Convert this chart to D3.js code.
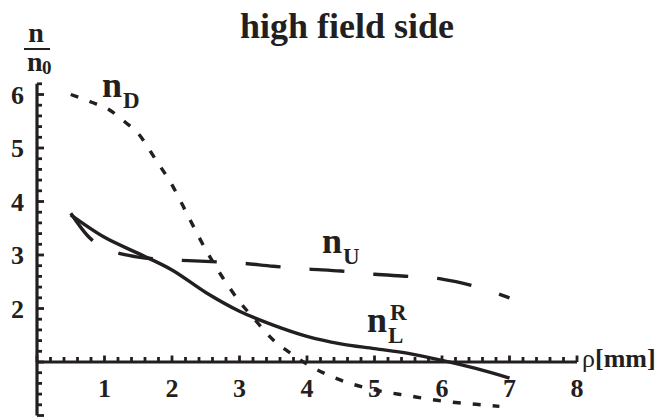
<!DOCTYPE html>
<html>
<head>
<meta charset="utf-8">
<script src="https://cdn.jsdelivr.net/npm/d3@7"></script>
<style>
  body { margin: 0; background: #fff; }
  svg { display: block; }
  text { font-family: "Liberation Serif", "Times New Roman", serif; fill: #231f20; }
</style>
</head>
<body>
<div id="area"></div>
<script>
// values (rho in mm, n/n0)
var rhoL = [0.5, 1, 1.5, 2, 2.5, 3, 3.5, 4, 4.5, 5, 5.5, 6, 6.5, 7];
var nL = [3.75, 3.33, 3.03, 2.72, 2.3, 1.95, 1.69, 1.48, 1.34, 1.25, 1.16, 1.03, 0.88, 0.7];

var rhoU = [0.5, 0.75, 1, 1.25, 1.5, 2, 2.5, 3, 3.5, 4, 4.5, 5, 5.5, 6, 6.5, 7];
var nU = [3.78, 3.36, 3.12, 3.02, 2.96, 2.91, 2.88, 2.85, 2.79, 2.74, 2.70, 2.64, 2.60, 2.55, 2.41, 2.2];

var rhoD = [0.5, 0.8, 1.05, 1.3, 1.5, 1.75, 2, 2.25, 2.5, 2.75, 3, 3.25, 3.5, 3.75, 4, 4.5, 5, 5.5, 6, 6.5, 6.85];
var nD = [6.0, 5.86, 5.73, 5.49, 5.27, 4.8, 4.31, 3.7, 3.1, 2.58, 2.13, 1.76, 1.41, 1.17, 0.96, 0.66, 0.48, 0.37, 0.27, 0.21, 0.17];

var xTicks = [1, 2, 3, 4, 5, 6, 7, 8];
var yTicks = [2, 3, 4, 5, 6];

var width = 664, height = 417;
var ink = '#231f20';

var svg = d3.select('#area').append('svg')
    .attr('width', width)
    .attr('height', height);

var x = d3.scaleLinear().domain([0, 8]).range([37, 577]);
var y = d3.scaleLinear().domain([0, 6.2]).range([415.5, 83.8]);

// axes cross at (0, 1), minor ticks every 0.2
var minorX = d3.range(0, 8.001, 0.2);
var minorY = d3.range(0, 6.201, 0.2);
function isMajor(d) { return Math.abs(d - Math.round(d)) < 1e-6; }

var axes = svg.append('g').attr('stroke', ink);

axes.append('line')
  .attr('x1', x(0)).attr('x2', x(8))
  .attr('y1', y(1)).attr('y2', y(1))
  .attr('stroke-width', 3.2);

axes.append('line')
  .attr('x1', x(0)).attr('x2', x(0))
  .attr('y1', y(0)).attr('y2', y(6.2))
  .attr('stroke-width', 3.2);

axes.selectAll('.xtick')
  .data(minorX)
  .enter().append('line')
  .attr('class', 'xtick')
  .attr('x1', function(d) { return x(d); })
  .attr('x2', function(d) { return x(d); })
  .attr('y1', y(1))
  .attr('y2', function(d) { return y(1) - (isMajor(d) ? 6.5 : 5); })
  .attr('stroke-width', 2.8);

axes.selectAll('.ytick')
  .data(minorY)
  .enter().append('line')
  .attr('class', 'ytick')
  .attr('y1', function(d) { return y(d); })
  .attr('y2', function(d) { return y(d); })
  .attr('x1', x(0))
  .attr('x2', function(d) { return x(0) + (isMajor(d) ? 7 : 5); })
  .attr('stroke-width', 2.8);

svg.selectAll('.xlab')
  .data(xTicks)
  .enter().append('text')
  .attr('class', 'xlab')
  .attr('x', function(d) { return x(d); })
  .attr('y', 397)
  .attr('text-anchor', 'middle')
  .style('font-size', '26px')
  .style('font-weight', 'bold')
  .text(function(d) { return d; });

svg.selectAll('.ylab')
  .data(yTicks)
  .enter().append('text')
  .attr('class', 'ylab')
  .attr('x', 24)
  .attr('y', function(d) { return y(d) + 9; })
  .attr('text-anchor', 'end')
  .style('font-size', '26px')
  .style('font-weight', 'bold')
  .text(function(d) { return d; });

// curves
var line = d3.line()
  .x(function(d) { return x(d[0]); })
  .y(function(d) { return y(d[1]); })
  .curve(d3.curveMonotoneX);

function pairs(a, b) { return a.map(function(v, i) { return [v, b[i]]; }); }

svg.append('path')
  .datum(pairs(rhoD, nD))
  .attr('d', line)
  .attr('fill', 'none')
  .attr('stroke', ink)
  .attr('stroke-width', 3.4)
  .attr('stroke-dasharray', '8,12');

svg.append('path')
  .datum(pairs(rhoU, nU))
  .attr('d', line)
  .attr('fill', 'none')
  .attr('stroke', ink)
  .attr('stroke-width', 3.4)
  .attr('stroke-dasharray', '35,29');

svg.append('path')
  .datum(pairs(rhoL, nL))
  .attr('d', line)
  .attr('fill', 'none')
  .attr('stroke', ink)
  .attr('stroke-width', 3.4);

// title
svg.append('text')
  .attr('x', 347)
  .attr('y', 38)
  .attr('text-anchor', 'middle')
  .style('font-size', '36px')
  .style('font-weight', 'bold')
  .text('high field side');

// y label n / n0
var yl = svg.append('g').style('font-weight', 'bold');
yl.append('text').attr('x', 36).attr('y', 42).attr('text-anchor', 'middle')
  .style('font-size', '28px').text('n');
yl.append('line').attr('x1', 24).attr('x2', 50).attr('y1', 49).attr('y2', 49)
  .attr('stroke', ink).attr('stroke-width', 2);
yl.append('text').attr('x', 27).attr('y', 71).style('font-size', '28px').text('n');
yl.append('text').attr('x', 42).attr('y', 74).style('font-size', '19px').text('0');

// x label
var xl = svg.append('text').attr('x', 582).attr('y', 367).style('font-size', '26px');
xl.append('tspan').text('ρ');
xl.append('tspan').style('font-weight', 'bold').text('[mm]');

// curve labels
function label(xp, yp, sub, sup) {
  var g = svg.append('g').style('font-weight', 'bold');
  g.append('text').attr('x', xp).attr('y', yp).style('font-size', '36px').text('n');
  if (sub) g.append('text').attr('x', xp + 21).attr('y', yp + 11).style('font-size', '23px').text(sub);
  if (sup) g.append('text').attr('x', xp + 23).attr('y', yp - 12).style('font-size', '23px').text(sup);
}
label(102, 97, 'D');
label(322, 253, 'U');
label(367, 332, 'L', 'R');
</script>
</body>
</html>
